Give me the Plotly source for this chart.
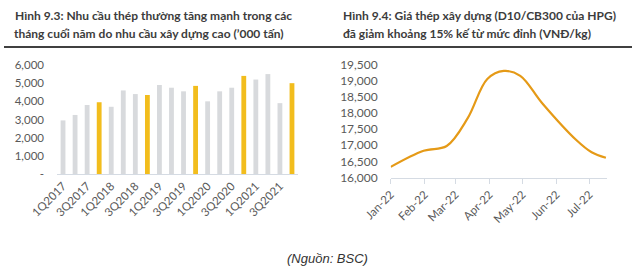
import plotly.graph_objects as go

W, H = 642, 272

# ---- Left chart data ----
quarters = ["1Q2017", "2Q2017", "3Q2017", "4Q2017",
            "1Q2018", "2Q2018", "3Q2018", "4Q2018",
            "1Q2019", "2Q2019", "3Q2019", "4Q2019",
            "1Q2020", "2Q2020", "3Q2020", "4Q2020",
            "1Q2021", "2Q2021", "3Q2021", "4Q2021"]
demand = [2950, 3250, 3800, 3950,
          3700, 4600, 4400, 4350,
          4900, 4750, 4550, 4850,
          4000, 4550, 4750, 5400,
          5200, 5500, 3900, 5000]
left_ticks = ["1Q2017", "3Q2017", "1Q2018", "3Q2018", "1Q2019",
              "3Q2019", "1Q2020", "3Q2020", "1Q2021", "3Q2021"]
left_yvals = [0, 1000, 2000, 3000, 4000, 5000, 6000]
left_ytext = ["-", "1,000", "2,000", "3,000", "4,000", "5,000", "6,000"]

# ---- Right chart data ----
dates = ["2022-01-01", "2022-01-31", "2022-02-21", "2022-03-12",
         "2022-03-30", "2022-04-14", "2022-04-29", "2022-05-19",
         "2022-06-19", "2022-07-03", "2022-07-16"]
price = [16330, 16830, 16975, 17830,
         19050, 19300, 19150, 18300,
         17160, 16780, 16610]
right_ticks = ["2022-01-01", "2022-02-01", "2022-03-01", "2022-04-01",
               "2022-05-01", "2022-06-01", "2022-07-01"]
right_yvals = [16000, 16500, 17000, 17500, 18000, 18500, 19000, 19500]

GRAY = "#d8dadd"
GOLD = "#f2bd1d"
LINE = "#e59a17"
TXT = "#595959"
FONT = "Lato"

colors = [GOLD if q.startswith("4Q") else GRAY for q in quarters]

def px_x(p):
    return p / W

def px_y(p):
    return 1 - p / H

fig = go.Figure()
fig.add_trace(go.Bar(x=quarters, y=demand, marker=dict(color=colors, line=dict(width=0)),
                     width=0.4, xaxis="x", yaxis="y", showlegend=False))
fig.add_trace(go.Scatter(x=dates, y=price, mode="lines",
                         line=dict(color=LINE, width=2.2, shape="spline", smoothing=1.0),
                         xaxis="x2", yaxis="y2", showlegend=False))

fig.update_layout(
    width=W, height=H, margin=dict(l=0, r=0, t=0, b=0, autoexpand=False),
    paper_bgcolor="white", plot_bgcolor="white",
    font=dict(family=FONT, color=TXT),
    xaxis=dict(domain=[px_x(57), px_x(298)], type="category", range=[-0.5, 19.5],
               tickmode="array", tickvals=left_ticks, ticktext=left_ticks,
               tickangle=-45, tickfont=dict(size=11.5, color=TXT),
               showline=True, linecolor="#d5dbe3", linewidth=1, automargin=False,
               showgrid=False, ticks="", anchor="y", fixedrange=True),
    yaxis=dict(domain=[px_y(174), px_y(65)], range=[0, 6000],
               tickmode="array", tickvals=left_yvals, ticktext=left_ytext,
               tickfont=dict(size=11.5, color=TXT), showgrid=False, zeroline=False,
               showline=False, ticks="", ticklabelstandoff=12, anchor="x", automargin=False),
    xaxis2=dict(domain=[px_x(390.7), px_x(607)], type="date",
                range=["2022-01-01", "2022-07-17"],
                tickmode="array", tickvals=right_ticks, tickformat="%b-%y",
                tickangle=-45, tickfont=dict(size=11.5, color=TXT),
                showline=True, linecolor="#d5dbe3", linewidth=1, automargin=False,
                ticks="outside", ticklen=5, tickcolor="#d5dbe3",
                showgrid=False, anchor="y2"),
    yaxis2=dict(domain=[px_y(177.5), px_y(64.5)], range=[16000, 19500],
                tickmode="array", tickvals=right_yvals, tickformat=",d",
                tickfont=dict(size=12, color=TXT), showgrid=False, zeroline=False,
                showline=False, ticks="", ticklabelstandoff=12, anchor="x2", automargin=False),
)

title_style = dict(xref="paper", yref="paper", xanchor="left", yanchor="middle",
                   showarrow=False, font=dict(family=FONT, size=12, color="#3c3c3c"))
ann = [
    dict(x=px_x(13), y=px_y(15), text="<b>Hình 9.3: Nhu cầu thép thường tăng mạnh trong các</b>", **title_style),
    dict(x=px_x(12), y=px_y(33), text="<b>tháng cuối năm do nhu cầu xây dựng cao (’000 tấn)</b>", **title_style),
    dict(x=px_x(340.5), y=px_y(15), text="<b>Hình 9.4: Giá thép xây dựng (D10/CB300 của HPG)</b>", **title_style),
    dict(x=px_x(340.5), y=px_y(33), text="<b>đã giảm khoảng 15% kế từ mức đỉnh (VNĐ/kg)</b>", **title_style),
    dict(x=px_x(327), y=px_y(258), xref="paper", yref="paper", xanchor="center", yanchor="middle",
         showarrow=False, text="<i>(Nguồn: BSC)</i>",
         font=dict(family="Liberation Sans", size=13, color="#333333")),
]
fig.update_layout(annotations=ann)
fig.add_shape(type="line", xref="paper", yref="paper",
              x0=px_x(4), x1=px_x(632), y0=px_y(47), y1=px_y(47),
              line=dict(color="black", width=1.5))

fig.write_html("out.html")
